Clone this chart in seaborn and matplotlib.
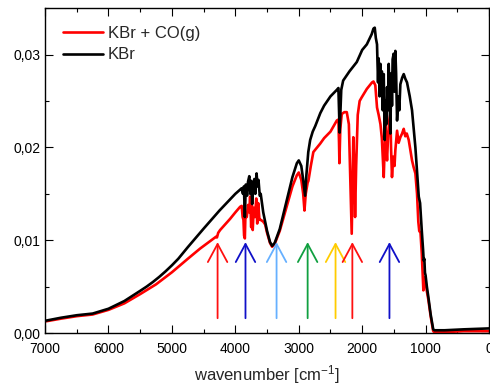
import pandas as pd
import numpy as np
import matplotlib
matplotlib.use('Agg')
import matplotlib.pyplot as plt
import seaborn as sns
from matplotlib.ticker import MultipleLocator, FuncFormatter


# spectra (wavenumber in cm-1, absorbance)

kbr_wn = [7000, 6750, 6500, 6250, 6000, 5750, 5500, 5400, 5300, 5200, 5100, 5000, 4900, 4750,
          4500, 4250, 4000, 3925,
          3900, 3880, 3865, 3850, 3835, 3815, 3800, 3780, 3765, 3750, 3735, 3720, 3700, 3685,
          3665, 3650, 3635, 3615, 3600, 3560, 3500, 3453, 3420, 3380, 3300, 3200, 3100, 3030,
          3000, 2960, 2930, 2900, 2880, 2850, 2820, 2780, 2740, 2700, 2660, 2600, 2500, 2400,
          2375, 2365, 2355, 2345, 2330, 2300, 2200, 2085, 2000, 1927, 1850, 1822, 1802, 1785,
          1766, 1750, 1740, 1725, 1712, 1700, 1690, 1675, 1660, 1645, 1630, 1618, 1608, 1595,
          1582, 1570, 1556, 1540, 1530, 1520, 1503, 1490, 1477, 1465, 1450, 1430, 1415, 1398,
          1370, 1345, 1320, 1293, 1250, 1214, 1161, 1108, 1087, 1060, 1040, 1030, 1020, 1010,
          1000, 980, 957, 920, 880, 860, 700, 400, 0]
kbr_abs = [0.00132, 0.00165, 0.00192, 0.00210, 0.00262, 0.00345, 0.00455, 0.00500, 0.00550,
           0.00605, 0.00665, 0.00730, 0.00800, 0.00925, 0.01125, 0.01320, 0.01500, 0.01545,
           0.0156, 0.0150, 0.0158, 0.0125, 0.0160, 0.0148, 0.0163, 0.0169, 0.0150, 0.0164,
           0.0139, 0.0160, 0.0166, 0.0150, 0.0172, 0.0158, 0.0165, 0.0148, 0.0150, 0.0130,
           0.0110, 0.0098, 0.0094, 0.0097, 0.0112, 0.0140, 0.0168, 0.0183, 0.0186, 0.0180,
           0.0165, 0.0148, 0.0170, 0.0195, 0.0208, 0.0217, 0.0223, 0.0230, 0.0237, 0.0245,
           0.0255, 0.0262, 0.0264, 0.0240, 0.0216, 0.0235, 0.0262, 0.0272, 0.0282, 0.0292,
           0.0305, 0.0311, 0.0322, 0.0328, 0.0329, 0.0318, 0.0311, 0.0270, 0.0296, 0.0255,
           0.0290, 0.0262, 0.0282, 0.0240, 0.0279, 0.0208, 0.0250, 0.0225, 0.0265, 0.0240,
           0.0290, 0.0260, 0.0215, 0.0280, 0.0245, 0.0295, 0.0301, 0.0260, 0.0304, 0.0280,
           0.0229, 0.0255, 0.0240, 0.0268, 0.0275, 0.0279, 0.0274, 0.0270, 0.0255, 0.0240,
           0.0200, 0.0147, 0.0140, 0.0110, 0.0090, 0.0078, 0.0080, 0.0065, 0.0062, 0.0050,
           0.0039, 0.0020, 0.0004, 0.0003, 0.0003, 0.0004, 0.0005]

co_wn = [7000, 6750, 6500, 6250, 6000, 5750, 5500, 5250, 5000, 4750, 4556, 4400, 4300, 4290,
         4270, 4240, 4083, 4000, 3925,
         3900, 3885, 3872, 3862, 3850, 3840, 3820, 3800, 3780, 3767, 3750, 3740, 3726, 3710,
         3690, 3670, 3655, 3640, 3620, 3600, 3560, 3530, 3500, 3453, 3420, 3380, 3300, 3200,
         3100, 3030, 3000, 2960, 2930, 2910, 2890, 2860, 2848, 2810, 2770, 2700, 2663, 2600,
         2500, 2400, 2375, 2365, 2359, 2345, 2322, 2280, 2243, 2210, 2185, 2165, 2150, 2140,
         2125, 2112, 2095, 2070, 2040, 2007, 1927, 1845, 1822, 1793, 1766, 1740, 1712, 1690,
         1675, 1660, 1645, 1634, 1620, 1608, 1590, 1570, 1556, 1545, 1530, 1510, 1490, 1477,
         1460, 1450, 1425, 1398, 1370, 1345, 1320, 1297, 1266, 1240, 1214, 1190, 1161, 1135,
         1115, 1100, 1080, 1060, 1045, 1035, 1020, 1000, 980, 957, 920, 880, 860, 700, 400, 0]
co_abs = [0.00125, 0.00155, 0.00182, 0.00200, 0.00250, 0.00320, 0.00420, 0.00525, 0.00655,
          0.00800, 0.00910, 0.00990, 0.01040, 0.01030, 0.01080, 0.01110, 0.01230, 0.01300,
          0.01360,
          0.0137, 0.0125, 0.0122, 0.0105, 0.0102, 0.0130, 0.0125, 0.0138, 0.0130, 0.0147,
          0.0114, 0.0141, 0.0111, 0.0135, 0.0125, 0.0145, 0.0118, 0.0140, 0.0122, 0.0122,
          0.0120, 0.0117, 0.0108, 0.0097, 0.0093, 0.0096, 0.0110, 0.0134, 0.0158, 0.0170,
          0.0173, 0.0165, 0.0150, 0.0132, 0.0150, 0.0162, 0.0164, 0.0180, 0.0195, 0.0201,
          0.0204, 0.0210, 0.0217, 0.0229, 0.0230, 0.0205, 0.0183, 0.0220, 0.0236, 0.0238,
          0.0238, 0.0225, 0.0160, 0.0107, 0.0170, 0.0211, 0.0180, 0.0125, 0.0180, 0.0235,
          0.0250, 0.0254, 0.0263, 0.0270, 0.0271, 0.0267, 0.0243, 0.0235, 0.0225, 0.0210,
          0.0190, 0.0168, 0.0200, 0.0229, 0.0200, 0.0186, 0.0215, 0.0230, 0.0236, 0.0200,
          0.0168, 0.0190, 0.0180, 0.0197, 0.0210, 0.0218, 0.0205, 0.0211, 0.0215, 0.0220,
          0.0212, 0.0215, 0.0208, 0.0197, 0.0186, 0.0179, 0.0172, 0.0150, 0.0120, 0.0110,
          0.0108, 0.0085, 0.0060, 0.0046, 0.0060, 0.0055, 0.0045, 0.0036, 0.0018, 0.0002,
          0.0001, 0.0001, 0.0002, 0.0002]

# arrows marking the bands
arrow_pos = [4280, 3840, 3350, 2860, 2420, 2155, 1570]
arrow_colors = ['#ff1010', '#1010c8', '#66b0ff', '#10a040', '#ffcc00', '#ff1010', '#1010c8']
arrow_tip = 0.0098
arrow_tail = 0.0016

x_ticks = [7000, 6000, 5000, 4000, 3000, 2000, 1000, 0]
y_ticks = [0.00, 0.01, 0.02, 0.03]


sns.set_theme(style='ticks')
plt.rcParams['font.family'] = ['Liberation Sans', 'DejaVu Sans']
plt.rcParams['mathtext.fontset'] = 'custom'
plt.rcParams['mathtext.rm'] = 'Liberation Sans'
plt.rcParams['mathtext.default'] = 'regular'

df_co = pd.DataFrame({'wn': co_wn, 'A': co_abs})
df_kbr = pd.DataFrame({'wn': kbr_wn, 'A': kbr_abs})

fig, ax = plt.subplots(figsize=(4.9, 3.9), dpi=100)
fig.subplots_adjust(left=0.092, right=0.998, bottom=0.146, top=0.979)

sns.lineplot(data=df_co, x='wn', y='A', color='#ff0000', lw=1.9, label='KBr + CO(g)',
             estimator=None, sort=False, ax=ax)
sns.lineplot(data=df_kbr, x='wn', y='A', color='black', lw=1.9, label='KBr',
             estimator=None, sort=False, ax=ax)

for pos, col in zip(arrow_pos, arrow_colors):
    ax.annotate('', xy=(pos, arrow_tip), xytext=(pos, arrow_tail),
                arrowprops=dict(arrowstyle='->,head_length=1.3,head_width=0.7',
                                color=col, lw=1.3, shrinkA=0, shrinkB=0,
                                mutation_scale=10))

ax.set_xlim(7000, 0)
ax.set_ylim(0, 0.035)
ax.set_xticks(x_ticks)
ax.set_yticks(y_ticks)
ax.xaxis.set_minor_locator(MultipleLocator(500))
ax.yaxis.set_minor_locator(MultipleLocator(0.005))
ax.yaxis.set_major_formatter(FuncFormatter(lambda v, p: f'{v:.2f}'.replace('.', ',')))
ax.tick_params(which='both', direction='in', top=True, right=True, width=0.8,
               labelsize=10, colors='black')
ax.tick_params(which='major', length=6)
ax.tick_params(axis='x', which='major', pad=6.5)
ax.tick_params(which='minor', length=3)
for sp in ax.spines.values():
    sp.set_linewidth(1.0)
    sp.set_color('black')

ax.set_xlabel('wavenumber [cm$^{-1}$]', fontsize=12, labelpad=5)
ax.set_ylabel('')

ax.legend(loc='upper left', frameon=False, fontsize=12, handlelength=2.4,
          labelspacing=0.4, handletextpad=0.3, borderaxespad=0.65)

plt.savefig('out.png', dpi=100)
